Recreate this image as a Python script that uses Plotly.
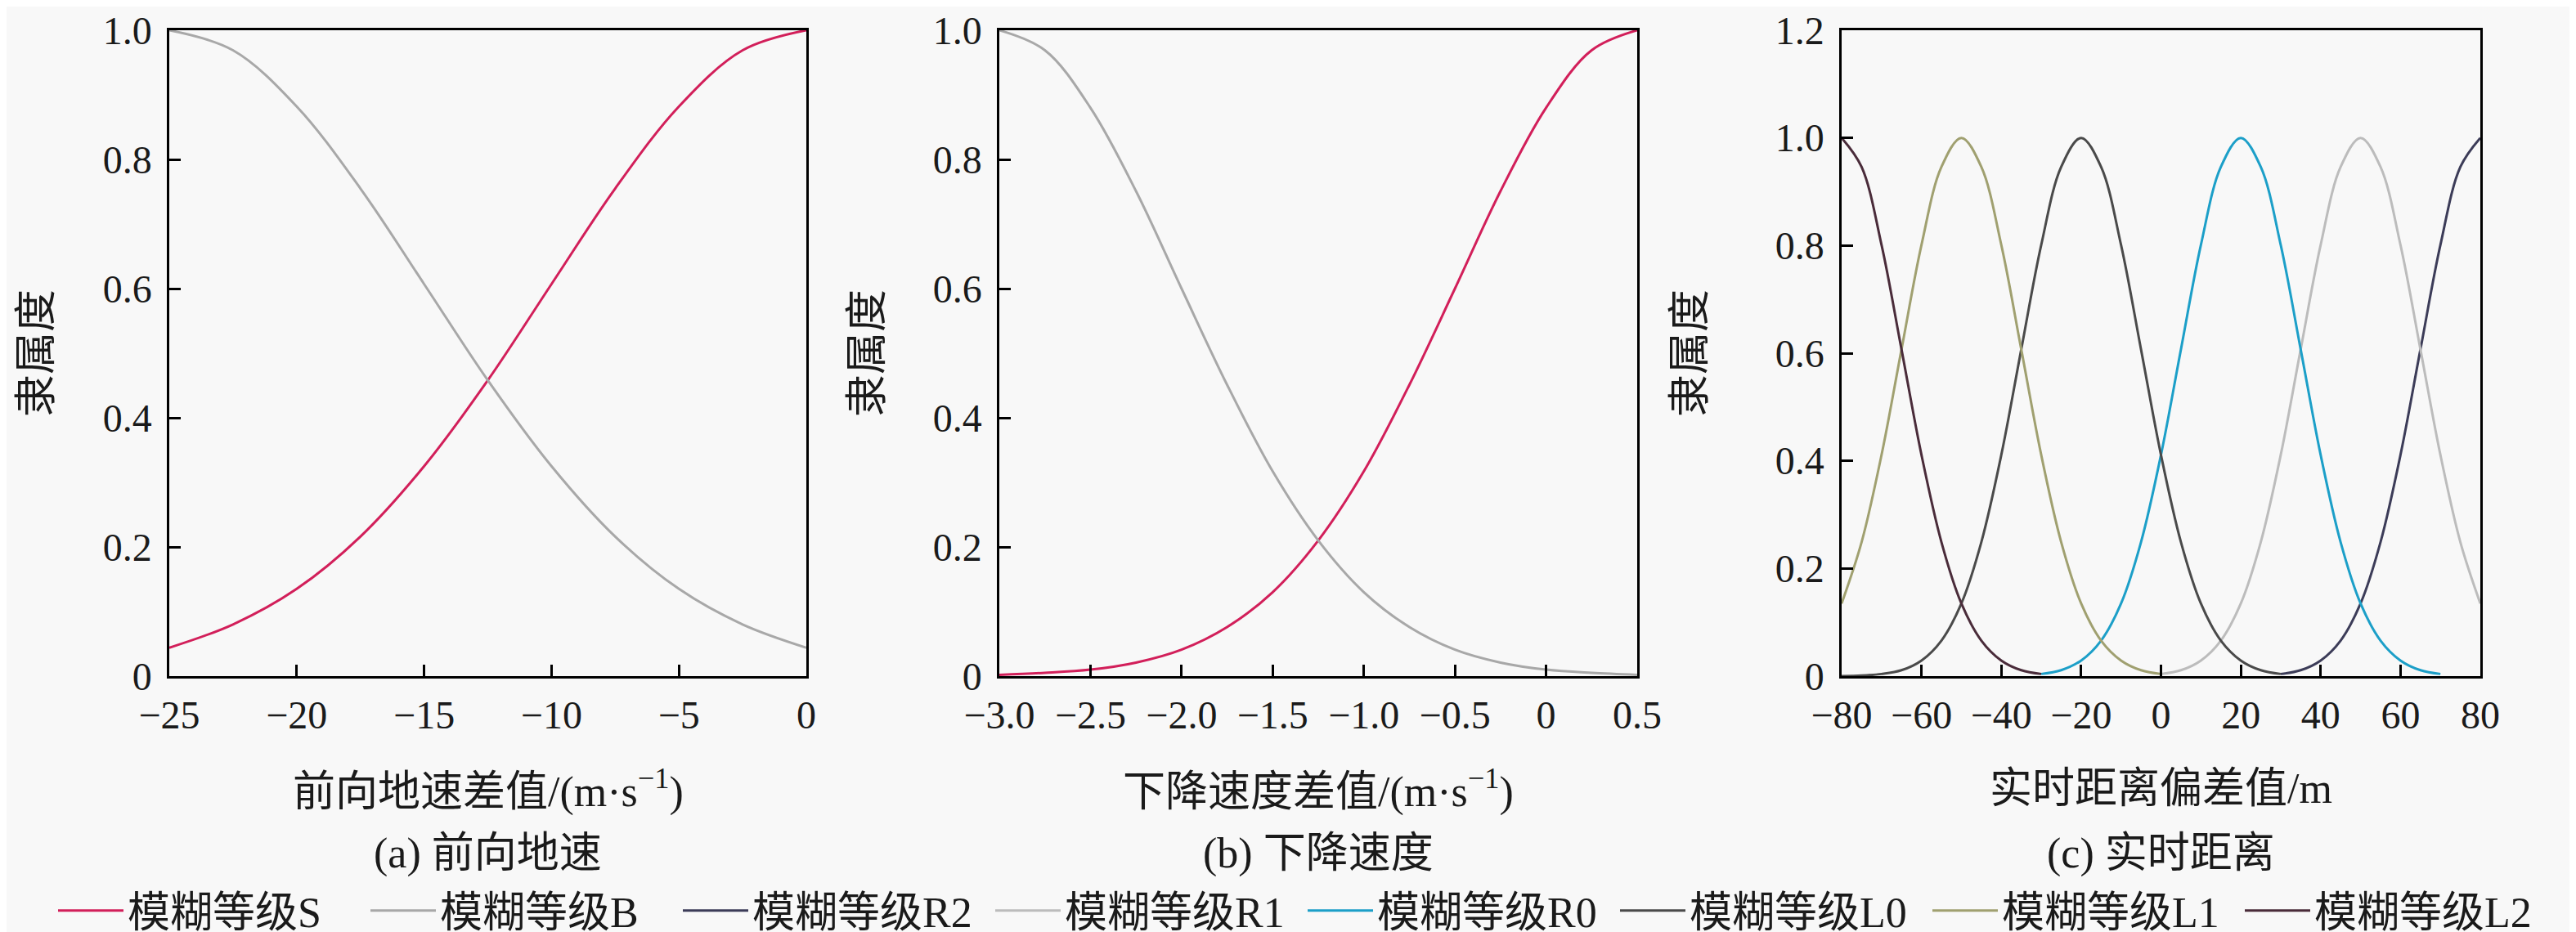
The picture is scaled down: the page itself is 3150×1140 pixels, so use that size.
import plotly.graph_objects as go
from plotly.subplots import make_subplots

# (a) forward ground speed difference
speed_x = [-25, -22.5, -20, -17.5, -15, -12.5, -10, -7.5, -5, -2.5, 0]
speed_s = [0.044, 0.080, 0.135, 0.216, 0.325, 0.458, 0.607, 0.755, 0.882, 0.969, 1.0]
speed_b = [1.0, 0.969, 0.882, 0.755, 0.607, 0.458, 0.325, 0.216, 0.135, 0.080, 0.044]

# (b) descent speed difference
descent_x = [-3.0, -2.75, -2.5, -2.25, -2.0, -1.75, -1.5, -1.25, -1.0, -0.75, -0.5, -0.25, 0, 0.25, 0.5]
descent_s = [0.002, 0.005, 0.010, 0.021, 0.041, 0.076, 0.130, 0.210, 0.317, 0.451, 0.600, 0.751, 0.880, 0.969, 1.0]
descent_b = [1.0, 0.969, 0.880, 0.751, 0.600, 0.451, 0.317, 0.210, 0.130, 0.076, 0.041, 0.021, 0.010, 0.005, 0.002]

# (c) real-time distance deviation
l2_x = [-80, -75, -70, -65, -60, -55, -50, -45, -40, -35, -30]
l2_y = [1.0, 0.946, 0.801, 0.607, 0.411, 0.249, 0.135, 0.066, 0.029, 0.011, 0.004]
l1_x = [-80, -75, -70, -65, -60, -55, -50, -45, -40, -35, -30, -25, -20, -15, -10, -5, 0]
l1_y = [0.135, 0.249, 0.411, 0.607, 0.801, 0.946, 1.0, 0.946, 0.801, 0.607, 0.411, 0.249, 0.135, 0.066, 0.029, 0.011, 0.004]
l0_x = [-80, -75, -70, -65, -60, -55, -50, -45, -40, -35, -30, -25, -20, -15, -10, -5, 0, 5, 10, 15, 20, 25, 30]
l0_y = [0.0, 0.001, 0.004, 0.011, 0.029, 0.066, 0.135, 0.249, 0.411, 0.607, 0.801, 0.946, 1.0, 0.946, 0.801, 0.607, 0.411, 0.249, 0.135, 0.066, 0.029, 0.011, 0.004]
r0_x = [-30, -25, -20, -15, -10, -5, 0, 5, 10, 15, 20, 25, 30, 35, 40, 45, 50, 55, 60, 65, 70]
r0_y = [0.004, 0.011, 0.029, 0.066, 0.135, 0.249, 0.411, 0.607, 0.801, 0.946, 1.0, 0.946, 0.801, 0.607, 0.411, 0.249, 0.135, 0.066, 0.029, 0.011, 0.004]
r1_x = [0, 5, 10, 15, 20, 25, 30, 35, 40, 45, 50, 55, 60, 65, 70, 75, 80]
r1_y = [0.004, 0.011, 0.029, 0.066, 0.135, 0.249, 0.411, 0.607, 0.801, 0.946, 1.0, 0.946, 0.801, 0.607, 0.411, 0.249, 0.135]
r2_x = [30, 35, 40, 45, 50, 55, 60, 65, 70, 75, 80]
r2_y = [0.004, 0.011, 0.029, 0.066, 0.135, 0.249, 0.411, 0.607, 0.801, 0.946, 1.0]

# tick labels
a_ticks = [-25, -20, -15, -10, -5, 0]
b_ticks = [-3.0, -2.5, -2.0, -1.5, -1.0, -0.5, 0, 0.5]
b_ticktext = ["−3.0", "−2.5", "−2.0", "−1.5", "−1.0", "−0.5", "0", "0.5"]
c_ticks = [-80, -60, -40, -20, 0, 20, 40, 60, 80]
y_ticks = [0, 0.2, 0.4, 0.6, 0.8, 1.0, 1.2]
y_ticktext = ["0", "0.2", "0.4", "0.6", "0.8", "1.0", "1.2"]

FONT = "Liberation Serif, Times New Roman, Noto Sans CJK SC"
BG = "#f8f8f8"
W, H = 3150, 1140

fig = make_subplots(rows=1, cols=3)

def line(x, y, name, color, col, show=True):
    fig.add_trace(go.Scatter(x=x, y=y, mode="lines", name=name, showlegend=show,
                             line=dict(color=color, width=3, shape="spline")),
                  row=1, col=col)

line(speed_x, speed_s, "模糊等级S", "#d21f5a", 1)
line(speed_x, speed_b, "模糊等级B", "#a8a8a8", 1)
line(descent_x, descent_s, "模糊等级S", "#d21f5a", 2, show=False)
line(descent_x, descent_b, "模糊等级B", "#a8a8a8", 2, show=False)
line(r2_x, r2_y, "模糊等级R2", "#3c3c58", 3)
line(r1_x, r1_y, "模糊等级R1", "#bcbcbc", 3)
line(r0_x, r0_y, "模糊等级R0", "#1c9fc8", 3)
line(l0_x, l0_y, "模糊等级L0", "#4a4a4a", 3)
line(l1_x, l1_y, "模糊等级L1", "#a0a070", 3)
line(l2_x, l2_y, "模糊等级L2", "#4a2c3a", 3)

# panel placement (pixels -> paper)
x_dom = [(199, 978), (1214, 1994), (2244, 3025)]
y_dom = [1 - 819 / H, 1 - 29 / H]

axis_style = dict(showline=True, linecolor="black", linewidth=2.5, mirror=True,
                  ticks="inside", ticklen=14, tickwidth=2.5, tickcolor="black",
                  showgrid=False, zeroline=False, automargin=False,
                  tickfont=dict(family=FONT, size=48, color="#1a1a1a"))

for i, (l, r) in enumerate(x_dom, start=1):
    fig.update_xaxes(domain=[l / W, r / W], row=1, col=i, ticklabelstandoff=4, **axis_style)
    fig.update_yaxes(domain=y_dom, row=1, col=i, ticklabelstandoff=9, **axis_style)

fig.update_xaxes(range=[-25, 0], tickvals=a_ticks, row=1, col=1)
fig.update_xaxes(range=[-3.0, 0.5], tickvals=b_ticks, ticktext=b_ticktext, row=1, col=2)
fig.update_xaxes(range=[-80, 80], tickvals=c_ticks, row=1, col=3)
fig.update_yaxes(range=[0, 1.0], tickvals=y_ticks[:6], ticktext=y_ticktext[:6], row=1, col=1)
fig.update_yaxes(range=[0, 1.0], tickvals=y_ticks[:6], ticktext=y_ticktext[:6], row=1, col=2)
fig.update_yaxes(range=[0, 1.2], tickvals=y_ticks, ticktext=y_ticktext, row=1, col=3)

x_titles = ["前向地速差值/(m·s<sup>−1</sup>)", "下降速度差值/(m·s<sup>−1</sup>)", "实时距离偏差值/m"]
captions = ["(a) 前向地速", "(b) 下降速度", "(c) 实时距离"]
ytitle_x = [36, 1052, 2058]

annos = []
for (l, r), xt, cap, yx in zip(x_dom, x_titles, captions, ytitle_x):
    cx = (l + r) / 2 / W
    common = dict(showarrow=False, xref="paper", yref="paper",
                  xanchor="center", yanchor="middle", font=dict(size=52))
    annos.append(dict(x=cx, y=1 - 957 / H, text=xt, **common))
    annos.append(dict(x=cx, y=1 - 1036 / H, text=cap, **common))
    annos.append(dict(x=yx / W, y=1 - 424 / H, text="隶属度", textangle=-90, **common))

fig.update_layout(
    width=W, height=H,
    margin=dict(l=0, r=0, t=0, b=0, autoexpand=False),
    paper_bgcolor=BG, plot_bgcolor=BG,
    font=dict(family=FONT, size=52, color="#1a1a1a"),
    annotations=annos,
    legend=dict(orientation="h", x=58 / W, xanchor="left", y=1 - 1106 / H, yanchor="middle",
                itemwidth=80, entrywidth=287, entrywidthmode="pixels",
                font=dict(family=FONT, size=52), bgcolor="rgba(0,0,0,0)"),
)

fig.write_html("out.html")
